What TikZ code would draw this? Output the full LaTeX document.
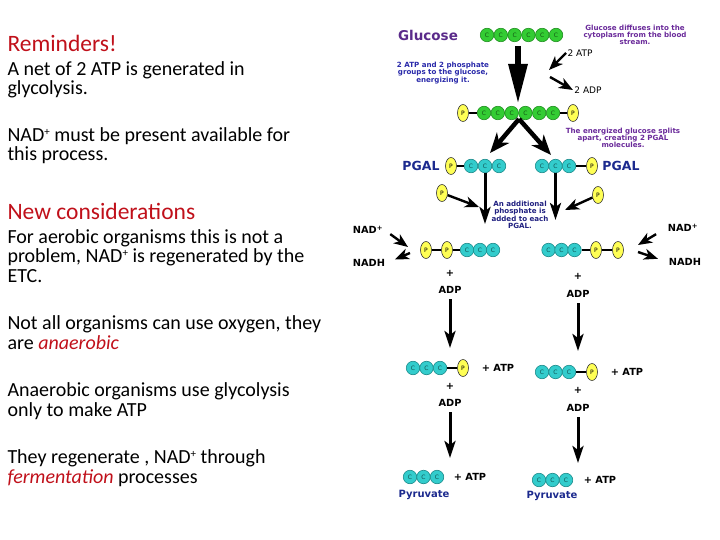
\documentclass[tikz,border=0pt]{standalone}
\usepackage{fontspec}
\setmainfont{Carlito}
\newfontfamily\dgfont{DejaVu Sans}
\usetikzlibrary{arrows.meta,shapes.geometric}
\tikzset{
every picture/.style={
line width=1pt
}}
\newcommand{\supplus}{\raisebox{0.3em}{\fontsize{11}{11}\selectfont +}}
\definecolor{hdred}{HTML}{C0101A}
\definecolor{glupurple}{HTML}{5A2A8A}
\definecolor{notepurple}{HTML}{6A2A9A}
\definecolor{noteblue}{HTML}{2A2AAA}
\definecolor{notenavy}{HTML}{202080}
\definecolor{pgalblue}{HTML}{1C2A8E}
\definecolor{greenfill}{HTML}{33CC33}
\definecolor{greenedge}{HTML}{1F8F1F}
\definecolor{cyanfill}{HTML}{33CCCC}
\definecolor{cyanedge}{HTML}{1A8A8A}
\definecolor{phyellow}{HTML}{FFFF55}

\begin{document}
\begin{tikzpicture}[x=1pt, y=-1pt,
para/.style = {anchor=base west, align=left, inner sep=0pt, font=\fontsize{20}{19.5}\selectfont},
head/.style = {anchor=base west, inner sep=0pt, text=hdred, font=\fontsize{23.5}{24}\selectfont},
gcarb/.style = {circle, draw=greenedge, fill=greenfill, line width=0.6pt, minimum size=13.5pt, inner sep=0pt, text=greenedge!60!black, font=\dgfont\fontsize{6}{6}\selectfont},
ccarb/.style = {circle, draw=cyanedge, fill=cyanfill, line width=0.6pt, minimum size=13.5pt, inner sep=0pt, text=cyanedge!60!black, font=\dgfont\fontsize{6}{6}\selectfont},
phos/.style = {ellipse, draw=black!80, fill=phyellow, line width=0.6pt, minimum width=11pt, minimum height=17pt, inner sep=0pt, font=\dgfont\fontsize{6}{6}\selectfont},
bond/.style = {line width=1.5pt},
tag/.style = {inner sep=1pt, font=\dgfont\bfseries\fontsize{9.8}{10}\selectfont},
note/.style = {align=center, inner sep=0pt, font=\dgfont\bfseries\fontsize{7.1}{7.3}\selectfont},
pgal/.style = {inner sep=0pt, text=pgalblue, font=\dgfont\bfseries\fontsize{12.5}{12.5}\selectfont},
pyr/.style = {inner sep=0pt, text=pgalblue, font=\dgfont\bfseries\fontsize{10}{10}\selectfont},
bigarr/.style = {line width=6pt, -{Triangle[length=40pt,width=18pt]}},
splitarr/.style = {line width=4.5pt, -{Stealth[length=20pt,width=16pt,inset=6pt]}},
downarr/.style = {line width=3pt, -{Stealth[length=17pt,width=11pt,inset=4pt]}},
sidearr/.style = {line width=2.4pt, -{Stealth[length=14pt,width=11pt,inset=4pt]}}]
\useasboundingbox (0,0) rectangle (720,540);

% left column
\node[head] (rem) at (7,52) {Reminders!};
\node[para] (net) at (7,95) {A net of 2 ATP is generated in\\glycolysis.};
\node[para] (must) at (7,161) {NAD\supplus{} must be present available for\\this process.};
\node[head] (newc) at (7,219) {New considerations};
\node[para] (aer) at (7,282) {For aerobic organisms this is not a\\problem, NAD\supplus{} is regenerated by the\\ETC.};
\node[para] (oxy) at (7,349) {Not all organisms can use oxygen, they\\are {\itshape\color{hdred}anaerobic}};
\node[para] (only) at (7,416) {Anaerobic organisms use glycolysis\\only to make ATP};
\node[para] (ferm) at (7,483) {They regenerate , NAD\supplus{} through\\{\itshape\color{hdred}fermentation} processes};

% glucose
\node[inner sep=0pt, text=glupurple, font=\dgfont\bfseries\fontsize{13.5}{13.5}\selectfont] (glu) at (428,35) {Glucose};
\foreach \n in {1,...,6} \node[gcarb] (g\n) at ({473.2+13.8*\n},35) {C};
\node[note, text=notepurple] (diff) at (635,35) {Glucose diffuses into the\\cytoplasm from the blood\\stream.};
\node[note, text=noteblue] (energ) at (443,73) {2 ATP and 2 phosphate\\groups to the glucose,\\energizing it.};

\coordinate (gtop) at (518,46);
\coordinate (gtip) at (518,104);
\draw[bigarr] (gtop) -- (gtip);

\node[inner sep=1pt, font=\dgfont\fontsize{9}{9}\selectfont] (atp0) at (580,53) {2 ATP};
\node[inner sep=1pt, font=\dgfont\fontsize{9}{9}\selectfont] (adp0) at (588,90) {2 ADP};
\coordinate (a0) at (549,70);
\coordinate (a1) at (550,77);
\draw[sidearr] (atp0.west) -- (a0);
\draw[sidearr] (a1) -- (adp0.west);

% energized glucose
\node[phos] (ep1) at (463,113) {P};
\foreach \n in {1,...,6} \node[gcarb] (e\n) at ({470.2+13.8*\n},113) {C};
\node[phos] (ep2) at (573,113) {P};
\draw[bond] (ep1) -- (e1) (e6) -- (ep2);
\node[note, text=notepurple] (splt) at (623,138) {The energized glucose splits\\apart, creating 2 PGAL\\molecules.};

\coordinate (split) at (519,119);
\coordinate (s1) at (490,153);
\coordinate (s2) at (551,155);
\draw[splitarr] (split) -- (s1);
\draw[splitarr] (split) -- (s2);

% PGAL
\node[pgal] (pg1) at (421,166) {PGAL};
\node[phos] (pp1) at (451,166) {P};
\foreach \n in {1,2,3} \node[ccarb] (pl\n) at ({457+14*\n},166) {C};
\foreach \n in {1,2,3} \node[ccarb] (pr\n) at ({528.5+13.5*\n},166) {C};
\node[phos] (pp2) at (592,166) {P};
\node[pgal] (pg2) at (621,166) {PGAL};
\draw[bond] (pp1) -- (pl1) (pr3) -- (pp2);

\coordinate (d1) at (485,224);
\coordinate (d2) at (555.5,220);
\draw[downarr] (pl2) -- (d1);
\draw[downarr] (pr2) -- (d2);

\node[phos] (sp1) at (442,193) {P};
\node[phos] (sp2) at (598,195) {P};
\coordinate (b1) at (479,207);
\coordinate (b2) at (565,210);
\draw[sidearr] (sp1) -- (b1);
\draw[sidearr] (sp2) -- (b2);
\node[note, text=notenavy] (addp) at (520,215) {An additional\\phosphate is\\added to each\\PGAL.};

% NAD step
\node[phos] (np1) at (426,250) {P};
\node[phos] (np2) at (447,250) {P};
\foreach \n in {1,2,3} \node[ccarb] (nl\n) at ({454+13*\n},250) {C};
\foreach \n in {1,2,3} \node[ccarb] (nr\n) at ({535.5+13*\n},250) {C};
\node[phos] (np3) at (596,250) {P};
\node[phos] (np4) at (618,250) {P};
\draw[bond] (np1) -- (np2) (np2) -- (nl1) (nr3) -- (np3) (np3) -- (np4);

\node[tag] (nad1) at (368,230) {NAD\textsuperscript{+}};
\node[tag] (nadh1) at (369,263) {NADH};
\node[tag] (nad2) at (683,228) {NAD\textsuperscript{+}};
\node[tag] (nadh2) at (685,262) {NADH};
\coordinate (m1) at (408,247);
\coordinate (m2) at (410,253);
\coordinate (m3) at (638,245);
\coordinate (m4) at (638,252);
\draw[sidearr, shorten <=7pt] (nad1.east) -- (m1);
\draw[sidearr, shorten >=9pt] (m2) -- (nadh1.east);
\draw[sidearr, shorten <=12pt] (nad2.west) -- (m3);
\draw[sidearr, shorten >=10pt] (m4) -- (nadh2.west);

\node[tag] (plus1) at (450,273) {+};
\node[tag] (adp1) at (450,290) {ADP};
\node[tag] (plus2) at (578,276) {+};
\node[tag] (adp2) at (578,294) {ADP};
\coordinate (d3) at (450,348);
\coordinate (d4) at (578,351);
\draw[downarr, shorten <=4pt] (adp1) -- (d3);
\draw[downarr, shorten <=4pt] (adp2) -- (d4);

% first ATP
\foreach \n in {1,2,3} \node[ccarb] (rl\n) at ({399.5+13.5*\n},368) {C};
\node[phos] (rp1) at (463,368) {P};
\node[tag] (atp1) at (498,368) {+ ATP};
\foreach \n in {1,2,3} \node[ccarb] (rr\n) at ({528.5+13.5*\n},372) {C};
\node[phos] (rp2) at (592,372) {P};
\node[tag] (atp2) at (627,372) {+ ATP};
\draw[bond] (rl3) -- (rp1) (rr3) -- (rp2);

\node[tag] (plus3) at (450,386) {+};
\node[tag] (adp3) at (450,403) {ADP};
\node[tag] (plus4) at (578,390) {+};
\node[tag] (adp4) at (578,408) {ADP};
\coordinate (d5) at (450,458);
\coordinate (d6) at (578,463);
\draw[downarr, shorten <=4pt] (adp3) -- (d5);
\draw[downarr, shorten <=4pt] (adp4) -- (d6);

% pyruvate
\foreach \n in {1,2,3} \node[ccarb] (yl\n) at ({396.5+13.5*\n},477) {C};
\node[tag] (atp3) at (470,477) {+ ATP};
\node[pyr] (pyr1) at (424,495) {Pyruvate};
\foreach \n in {1,2,3} \node[ccarb] (yr\n) at ({525.5+13.5*\n},480) {C};
\node[tag] (atp4) at (600,480) {+ ATP};
\node[pyr] (pyr2) at (552,496) {Pyruvate};
\end{tikzpicture}
\end{document}
